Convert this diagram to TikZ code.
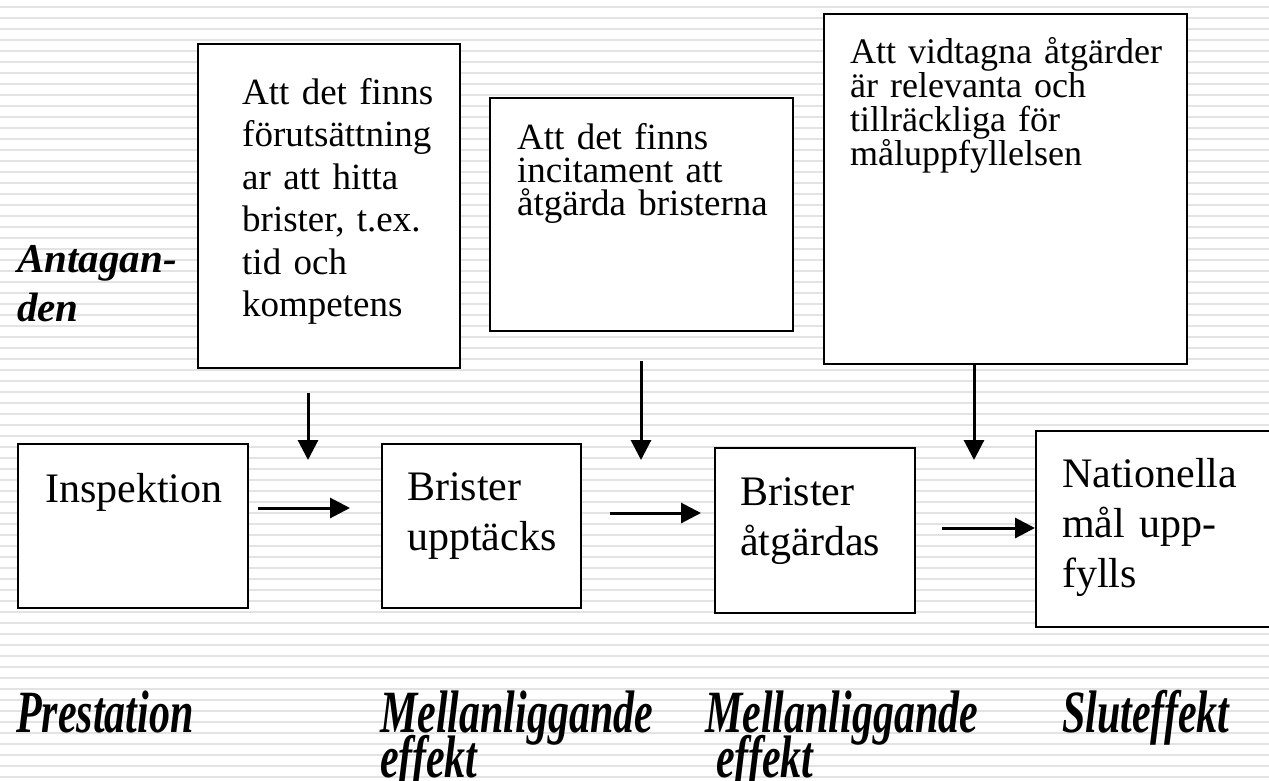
\documentclass[tikz,border=0pt]{standalone}
\usepackage{fontspec}
\setmainfont{Liberation Serif}
\newfontfamily\condserif[FakeStretch=0.7]{Liberation Serif}
\usetikzlibrary{arrows.meta}
\definecolor{stripegray}{gray}{0.89}
\newcommand\setfs[2]{\fontsize{#1}{#2}\selectfont\lineskiplimit=-100pt\relax}

\begin{document}
\begin{tikzpicture}[x=1pt,y=-1pt,
  box/.style={draw=black,fill=white,line width=2.2pt,anchor=north west,inner sep=0pt},
  txt/.style={anchor=base west,inner sep=0pt,text width=330pt,align=left},
  flow/.style={line width=3pt,-{Triangle[length=20pt,width=20pt]}},
  cat/.style={anchor=base west,inner sep=0pt,text width=330pt,align=left,font=\condserif\bfseries\itshape\setfs{60}{45}}]
  \clip (0,0) rectangle (1269,780);
  \fill [white] (0,0) rectangle (1269,780);
  \foreach \i in {0,...,70}
    \fill [stripegray] (0,5.7+11*\i) rectangle (1269,7.7+11*\i);

  \node [box,minimum width=262pt,minimum height=324pt] (hitta) at (197,43) {};
  \node [box,minimum width=303pt,minimum height=233pt] (incit) at (489,97) {};
  \node [box,minimum width=363pt,minimum height=350pt] (relev) at (823,13) {};
  \node [box,minimum width=230pt,minimum height=164pt] (insp) at (17,443) {};
  \node [box,minimum width=199pt,minimum height=164pt] (uppt) at (381,443) {};
  \node [box,minimum width=200pt,minimum height=165pt] (atg) at (714,447) {};
  \node [box,minimum width=260pt,minimum height=196pt] (natmal) at (1035,430) {};

  \node [txt,font=\setfs{37}{42.5}] (hitta-t) at (242,104) {Att det finns\\förutsättning\\ar att hitta\\brister, t.ex.\\tid och\\kompetens};
  \node [txt,font=\setfs{37}{33}] (incit-t) at (517,149) {Att det finns\\incitament att\\åtgärda bristerna};
  \node [txt,font=\setfs{36}{34}] (relev-t) at (850,63) {Att vidtagna åtgärder\\är relevanta och\\tillräckliga för\\måluppfyllelsen};
  \node [txt,font=\setfs{42}{50}] (insp-t) at (45,502) {Inspektion};
  \node [txt,font=\setfs{42}{50}] (uppt-t) at (407,500) {Brister\\upptäcks};
  \node [txt,font=\setfs{42}{50}] (atg-t) at (740,505) {Brister\\åtgärdas};
  \node [txt,font=\setfs{42}{50}] (natmal-t) at (1062,487) {Nationella\\mål upp-\\fylls};

  \node [txt,text width=200pt,font=\bfseries\itshape\setfs{41}{49}] (antag) at (17,272) {Antagan-\\den};
  \node [cat] (prest) at (16,732) {Prestation};
  \node [cat] (mell1) at (380,732) {Mellanliggande\\effekt};
  \node [cat] (mell2) at (705,732) {Mellanliggande\\\hspace*{11pt}effekt};
  \node [cat] (slut) at (1062,732) {Sluteffekt};

  \coordinate (v1a) at (308,393);
  \coordinate (v1b) at (308,460);
  \coordinate (v2a) at (641,361);
  \coordinate (v2b) at (641,460);
  \coordinate (v3a) at (974,363);
  \coordinate (v3b) at (974,460);
  \coordinate (h1a) at (258,508);
  \coordinate (h1b) at (350,508);
  \coordinate (h2a) at (610,513);
  \coordinate (h2b) at (701,513);
  \coordinate (h3a) at (942,528);
  \coordinate (h3b) at (1035,528);
  \draw [flow] (v1a) -- (v1b);
  \draw [flow] (v2a) -- (v2b);
  \draw [flow] (v3a) -- (v3b);
  \draw [flow] (h1a) -- (h1b);
  \draw [flow] (h2a) -- (h2b);
  \draw [flow] (h3a) -- (h3b);
\end{tikzpicture}
\end{document}
